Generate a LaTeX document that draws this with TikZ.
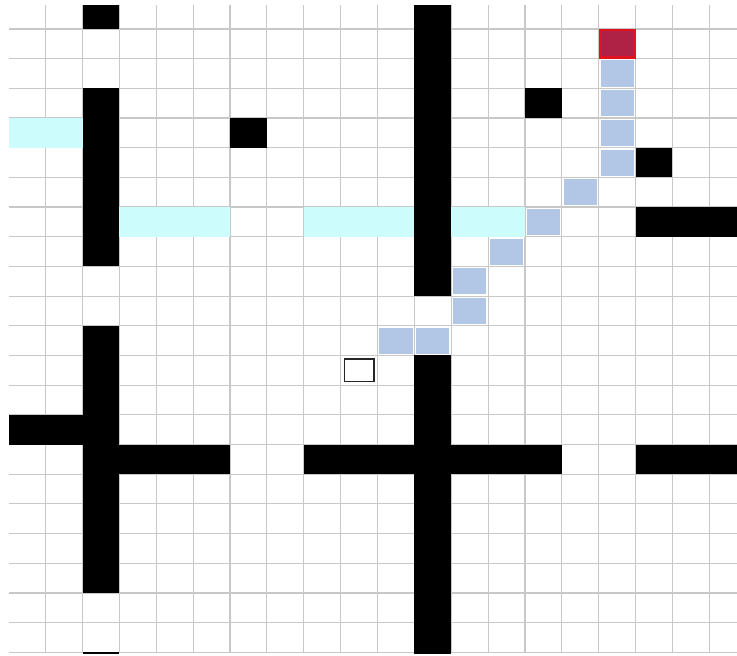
\documentclass[tikz,border=0pt]{standalone}
\definecolor{gridgray}{HTML}{C8C8C8}
\definecolor{wallcyan}{HTML}{CCFCFC}
\definecolor{pathblue}{HTML}{B2C6E6}
\definecolor{goalred}{HTML}{E2121E}
\definecolor{goalfill}{HTML}{B02245}
\newcommand{\gcell}[5]{%
  \pgfmathsetmacro{\gxa}{8.8+36.87*#1}%
  \pgfmathsetmacro{\gya}{-0.7+29.68*#2}%
  \pgfmathsetmacro{\gxb}{8.8+36.87*(#3+1)}%
  \pgfmathsetmacro{\gyb}{-0.7+29.68*(#4+1)}%
  \path[#5] (\gxa,\gya) rectangle (\gxb,\gyb);}
\newcommand{\icell}[4]{%
  \pgfmathsetmacro{\gxa}{8.8+36.87*#1+#3}%
  \pgfmathsetmacro{\gya}{-0.7+29.68*#2+#3}%
  \pgfmathsetmacro{\gxb}{8.8+36.87*(#1+1)-#3}%
  \pgfmathsetmacro{\gyb}{-0.7+29.68*(#2+1)-#3}%
  \path[#4] (\gxa,\gya) rectangle (\gxb,\gyb);}
\tikzset{
  gridline/.style={draw=gridgray, line width=1.2pt},
  wall/.style={fill=black},
  cyanwall/.style={fill=wallcyan},
  pathcell/.style={fill=pathblue},
  goalouter/.style={fill=goalred},
  goalinner/.style={fill=goalfill},
  startcell/.style={draw=black!85, line width=1.3pt, fill=white}
}
\begin{document}
\begin{tikzpicture}[x=1pt,y=-1pt]
\useasboundingbox[fill=white] (0,0) rectangle (737,656);
\begin{scope}
\clip (8.8,5) rectangle (737,653);
% grid
\foreach \c in {1,...,19} {\draw[gridline] ({8.8+36.87*\c},5) -- ({8.8+36.87*\c},653);}
\foreach \r in {1,...,22} {\draw[gridline] (8.8,{-0.7+29.68*\r}) -- (737,{-0.7+29.68*\r});}
% black walls
\gcell{2}{0}{2}{0}{wall}
\gcell{2}{3}{2}{8}{wall}
\gcell{2}{11}{2}{19}{wall}
\gcell{2}{22}{2}{22}{wall}
\gcell{0}{14}{1}{14}{wall}
\gcell{3}{15}{5}{15}{wall}
\gcell{6}{4}{6}{4}{wall}
\gcell{11}{0}{11}{9}{wall}
\gcell{11}{12}{11}{22}{wall}
\gcell{8}{15}{14}{15}{wall}
\gcell{17}{15}{19}{15}{wall}
\gcell{14}{3}{14}{3}{wall}
\gcell{17}{5}{17}{5}{wall}
\gcell{17}{7}{19}{7}{wall}
% cyan walls
\gcell{0}{4}{1}{4}{cyanwall}
\gcell{3}{7}{5}{7}{cyanwall}
\gcell{8}{7}{10}{7}{cyanwall}
\gcell{12}{7}{13}{7}{cyanwall}
% path
\foreach \c/\r in {16/2,16/3,16/4,16/5,15/6,14/7,13/8,12/9,12/10,11/11,10/11}
  {\icell{\c}{\r}{1.8}{pathcell}}
% goal
\gcell{16}{1}{16}{1}{goalouter}
\icell{16}{1}{2.5}{goalinner}
% start
\icell{9}{12}{3.6}{startcell}
\end{scope}
\end{tikzpicture}
\end{document}
